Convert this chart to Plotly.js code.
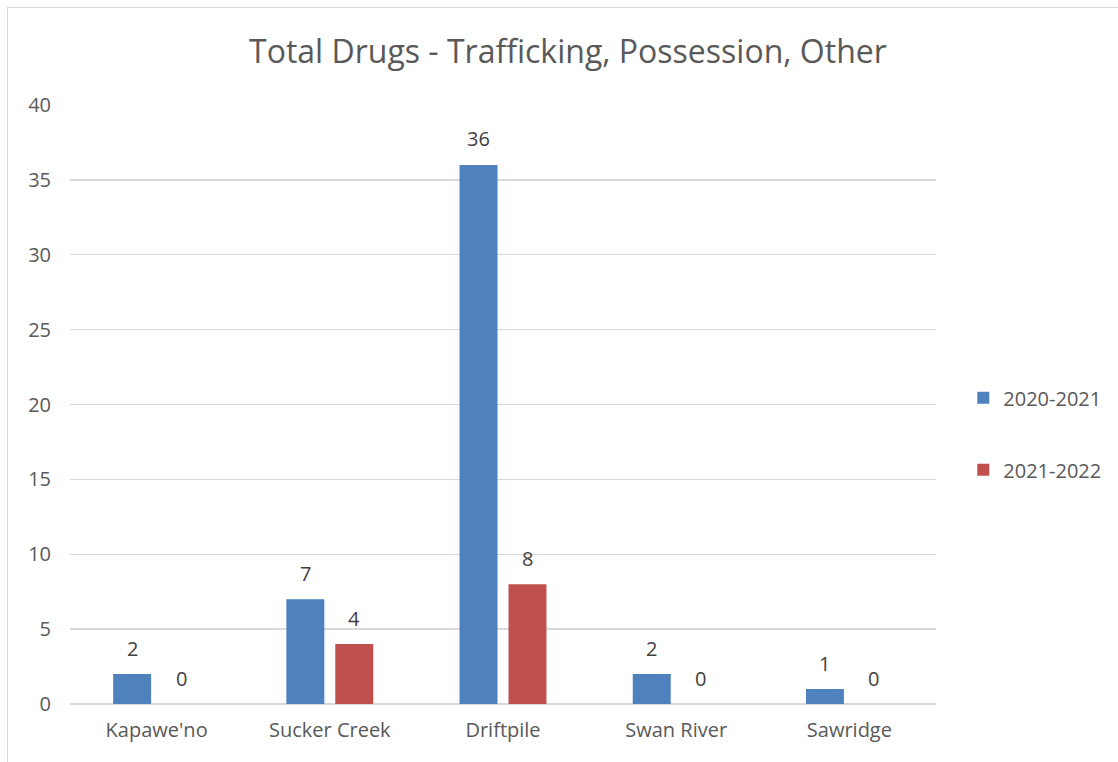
<!DOCTYPE html>
<html>
<head>
<meta charset="utf-8">
<script src="https://cdn.plot.ly/plotly-3.0.1.min.js"></script>
<style>
html,body{margin:0;padding:0;background:#fff;overflow:hidden;}
#frame{position:absolute;left:7px;top:7px;width:1200px;height:900px;border:1px solid #d9d9d9;box-sizing:border-box;pointer-events:none;z-index:2;}
#chart{position:absolute;left:0;top:0;width:1118px;height:762px;}
</style>
</head>
<body>
<div id="chart"></div>
<div id="frame"></div>
<script>
const categories = ["Kapawe'no", "Sucker Creek", "Driftpile", "Swan River", "Sawridge"];
const series2020 = [2, 7, 36, 2, 1];
const series2021 = [0, 4, 8, 0, 0];
const seriesNames = ["2020-2021", "2021-2022"];
const yTicks = [0, 5, 10, 15, 20, 25, 30, 35, 40];

const FONT = "'Open Sans', sans-serif";
const BLUE = '#4f81bd', RED = '#c0504d';

const traces = [
  {type:'bar', x:categories, y:series2020, name:seriesNames[0], legendgroup:'a',
   marker:{color:BLUE}, hoverinfo:'none'},
  {type:'bar', x:categories, y:series2021, name:seriesNames[1], legendgroup:'b',
   marker:{color:RED}, hoverinfo:'none'}
];

// data labels: annotations anchored to each bar's value through the axes
const plotW = 1118 - 70 - 180;
const bargap = 0.435;
const slotPx = plotW / categories.length * (1 - bargap) / 2;
const annotations = [];
[series2020, series2021].forEach((vals, s) => {
  vals.forEach((v, i) => {
    annotations.push({x: categories[i], y: v, xref:'x', yref:'y', text: String(v), showarrow:false,
      xshift: (s === 0 ? -1 : 1) * slotPx / 2, yshift: 26, yanchor:'middle', xanchor:'center',
      font:{size:20, color:'#404040', family:FONT}});
  });
});

const layout = {
  width:1118, height:762,
  margin:{l:70, r:180, t:105, b:58},
  paper_bgcolor:'#ffffff', plot_bgcolor:'#ffffff',
  font:{family:FONT, color:'#595959', size:20},
  title:{text:'Total Drugs - Trafficking, Possession, Other', font:{size:32, color:'#595959', family:FONT},
         x:0.508, xref:'container', xanchor:'center', y:0.932, yref:'container', yanchor:'middle'},
  barmode:'group', bargap:bargap, bargroupgap:0.224,
  xaxis:{showgrid:false, showline:false, zeroline:false, ticks:'', tickfont:{size:20, color:'#595959'}, ticklabelstandoff:12},
  yaxis:{range:[0,40], tickvals:yTicks, showgrid:true, gridcolor:'#d9d9d9', gridwidth:1.3,
         zeroline:true, zerolinecolor:'#d9d9d9', zerolinewidth:1.3, showline:false, ticks:'',
         tickfont:{size:20, color:'#595959'}, ticklabelstandoff:18},
  annotations: annotations,
  showlegend:true,
  legend:{x:1.0315, xanchor:'left', y:0.451, yanchor:'middle', traceorder:'grouped', tracegroupgap:43,
          font:{size:20, color:'#595959'}, itemwidth:30, bgcolor:'rgba(0,0,0,0)'}
};

Plotly.newPlot('chart', traces, layout, {displayModeBar:false, staticPlot:true});
</script>
</body>
</html>
